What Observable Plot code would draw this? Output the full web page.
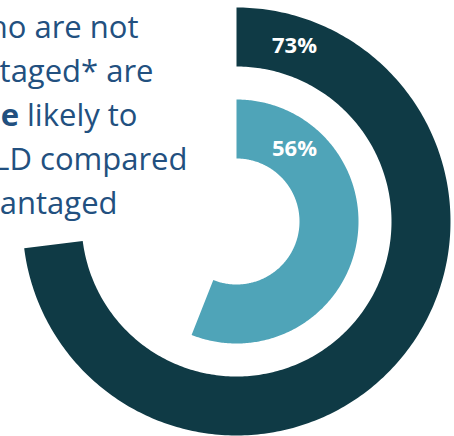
<!DOCTYPE html>
<html>
<head>
<meta charset="utf-8">
<script src="https://cdn.jsdelivr.net/npm/d3@7"></script>
<script src="https://cdn.jsdelivr.net/npm/@observablehq/plot@0.6"></script>
<style>
  html, body { margin: 0; padding: 0; background: #fff; }
  #chart { width: 454px; height: 436px; overflow: hidden; }
  svg { display: block; }
</style>
</head>
<body>
<div id="chart"></div>
<script>
// ---- data ----
const groups = ["Not disadvantaged", "Disadvantaged"];
const values = [73, 56];
const valueLabels = ["73%", "56%"];
const ringColors = ["#0f3a45", "#4fa4b8"];
const textLines = ["ho are not", "taged* are", "e likely to", "LD compared", "antaged"];

// ---- layout (pixels, relative to ring centre) ----
const ringRadii = [[155, 214], [63, 122]];
const labelOffsetX = 58;
const lineRightEnds = [138, 153, 137, 187, 117];
const firstBaseline = 37, lineStep = 44, textSize = 31;
const cx = 236, cy = 221, W = 454, H = 436;

// build annular-sector outlines from values
const arcs = groups.map((g, i) => {
  const [r0, r1] = ringRadii[i];
  const end = values[i] / 100 * 2 * Math.PI;
  const n = 300, pts = [];
  for (let k = 0; k <= n; k++) { const t = end * k / n; pts.push({x: r1 * Math.sin(t), y: r1 * Math.cos(t)}); }
  for (let k = n; k >= 0; k--) { const t = end * k / n; pts.push({x: r0 * Math.sin(t), y: r0 * Math.cos(t)}); }
  return pts;
});

const labels = groups.map((g, i) => {
  const rm = (ringRadii[i][0] + ringRadii[i][1]) / 2;
  return {x: labelOffsetX, y: Math.sqrt(rm * rm - labelOffsetX * labelOffsetX), text: valueLabels[i]};
});

const lines = textLines.map((t, i) => ({
  text: t,
  x: lineRightEnds[i] - cx,
  y: cy - (firstBaseline + i * lineStep) + 0.32 * textSize
}));

const chart = Plot.plot({
  width: W, height: H, margin: 0,
  style: {background: "#fff", overflow: "visible"},
  x: {domain: [-cx, W - cx], range: [0, W], axis: null},
  y: {domain: [cy - H, cy], range: [H, 0], axis: null},
  marks: [
    ...arcs.map((pts, i) => Plot.line(pts, {x: "x", y: "y", fill: ringColors[i], stroke: "none", curve: "linear"})),
    Plot.text(labels, {x: "x", y: "y", text: "text", fill: "#fff", fontSize: 22, fontWeight: "bold",
      fontFamily: "Open Sans", textAnchor: "middle"}),
    Plot.text(lines, {x: "x", y: "y", text: "text", fill: "#22507f", fontSize: textSize,
      fontFamily: "Open Sans", textAnchor: "end"})
  ]
});

// bold "e" (end of "more") on the third line
d3.select(chart).selectAll("text").each(function() {
  if (this.textContent === "e likely to") {
    this.innerHTML = '<tspan font-weight="bold">e</tspan> likely to';
  }
});

document.getElementById("chart").appendChild(chart);
</script>
</body>
</html>
